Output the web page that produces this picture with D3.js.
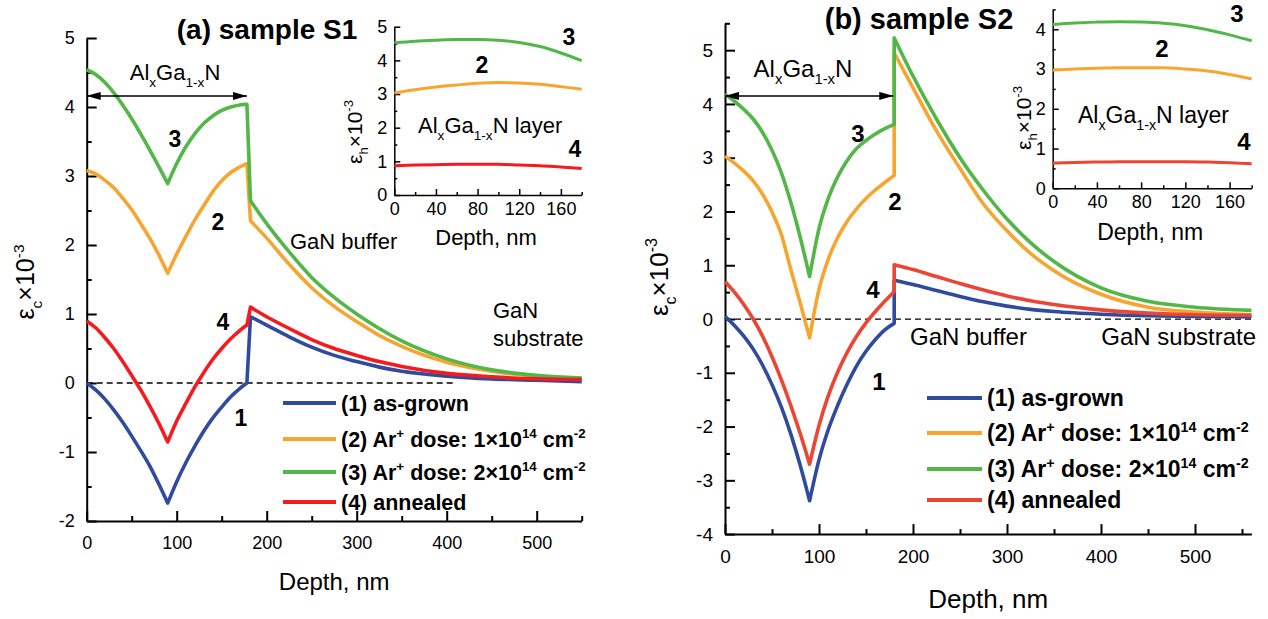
<!DOCTYPE html>
<html>
<head>
<meta charset="utf-8">
<script src="https://cdn.jsdelivr.net/npm/d3@7"></script>
<style>
  body { margin: 0; background: #fff; }
  svg { display: block; font-family: "Liberation Sans", Arial, sans-serif; }
</style>
</head>
<body>
<svg id="chart" width="1268" height="619"></svg>
<script>
"use strict";

/* ---------- Data: panel (a), sample S1 ---------- */
let layerDepthA = [0, 10, 20, 30, 40, 50, 60, 70, 80, 90, 100, 110, 120, 130, 140, 150, 160, 170, 178];
let bufferDepthA = [182, 200, 225, 250, 275, 300, 325, 350, 400, 450, 500, 550];

let asGrownLayerA = [0, -0.1, -0.23, -0.39, -0.57, -0.77, -0.98, -1.2, -1.46, -1.74, -1.43, -1.16, -0.92, -0.7, -0.51, -0.35, -0.2, -0.08, 0];
let dose1LayerA = [3.08, 3.03, 2.94, 2.83, 2.68, 2.51, 2.31, 2.1, 1.86, 1.59, 1.87, 2.12, 2.36, 2.57, 2.77, 2.93, 3.05, 3.13, 3.18];
let dose2LayerA = [4.54, 4.47, 4.36, 4.21, 4.03, 3.83, 3.61, 3.38, 3.14, 2.89, 3.18, 3.42, 3.61, 3.76, 3.87, 3.95, 4.0, 4.03, 4.04];
let annealedLayerA = [0.9, 0.8, 0.66, 0.5, 0.31, 0.11, -0.1, -0.33, -0.58, -0.855, -0.55, -0.3, -0.06, 0.15, 0.34, 0.5, 0.64, 0.76, 0.84];

let asGrownBufferA = [0.96, 0.84, 0.67, 0.52, 0.4, 0.31, 0.23, 0.17, 0.1, 0.06, 0.04, 0.02];
let dose1BufferA = [2.35, 2.1, 1.72, 1.38, 1.11, 0.89, 0.69, 0.53, 0.3, 0.17, 0.1, 0.06];
let dose2BufferA = [2.64, 2.31, 1.9, 1.53, 1.24, 1.0, 0.79, 0.61, 0.35, 0.19, 0.11, 0.07];
let annealedBufferA = [1.1, 0.96, 0.79, 0.63, 0.5, 0.4, 0.31, 0.24, 0.14, 0.09, 0.06, 0.05];

/* ---------- Data: panel (b), sample S2 ---------- */
let layerDepthB = [0, 10, 20, 30, 40, 50, 60, 70, 80, 90, 100, 110, 120, 130, 140, 150, 160, 170, 180];
let bufferDepthB = [180, 200, 225, 250, 275, 300, 325, 350, 400, 450, 500, 560];

let asGrownLayerB = [0.05, -0.12, -0.32, -0.56, -0.86, -1.22, -1.64, -2.14, -2.72, -3.38, -2.62, -2.05, -1.6, -1.21, -0.87, -0.6, -0.38, -0.2, -0.08];
let dose1LayerB = [3.03, 2.9, 2.75, 2.57, 2.32, 1.99, 1.57, 0.92, 0.3, -0.35, 0.55, 1.12, 1.52, 1.82, 2.05, 2.24, 2.4, 2.54, 2.67];
let dose2LayerB = [4.18, 4.05, 3.9, 3.72, 3.47, 3.14, 2.72, 2.17, 1.52, 0.79, 1.68, 2.25, 2.65, 2.95, 3.17, 3.32, 3.44, 3.54, 3.62];
let annealedLayerB = [0.7, 0.5, 0.27, 0.0, -0.32, -0.7, -1.13, -1.61, -2.13, -2.7, -1.98, -1.42, -0.98, -0.62, -0.32, -0.07, 0.14, 0.33, 0.51];

let asGrownBufferB = [0.72, 0.64, 0.53, 0.42, 0.32, 0.24, 0.18, 0.14, 0.09, 0.06, 0.05, 0.04];
let dose1BufferB = [4.95, 4.3, 3.5, 2.8, 2.14, 1.64, 1.22, 0.9, 0.46, 0.22, 0.13, 0.08];
let dose2BufferB = [5.23, 4.52, 3.72, 3.0, 2.39, 1.86, 1.42, 1.07, 0.58, 0.33, 0.22, 0.16];
let annealedBufferB = [1.01, 0.92, 0.79, 0.66, 0.54, 0.43, 0.34, 0.27, 0.17, 0.11, 0.08, 0.07];

/* ---------- Data: insets, eps_h in AlGaN layer ---------- */
let insetDepth = [0, 20, 40, 60, 80, 100, 120, 140, 160, 180];
let dose1InsetA = [3.03, 3.13, 3.21, 3.27, 3.32, 3.34, 3.33, 3.29, 3.22, 3.14];
let dose2InsetA = [4.52, 4.57, 4.6, 4.62, 4.62, 4.6, 4.53, 4.41, 4.22, 3.99];
let annealedInsetA = [0.87, 0.89, 0.9, 0.91, 0.91, 0.91, 0.89, 0.87, 0.83, 0.79];
let dose1InsetB = [2.97, 3.0, 3.02, 3.03, 3.03, 3.03, 3.0, 2.95, 2.86, 2.75];
let dose2InsetB = [4.12, 4.16, 4.18, 4.19, 4.18, 4.15, 4.09, 3.99, 3.86, 3.71];
let annealedInsetB = [0.63, 0.65, 0.66, 0.67, 0.67, 0.67, 0.67, 0.66, 0.64, 0.62];

/* ---------- Labels ---------- */
let legendLabels = [
  [["(1) as-grown"]],
  [["(2) Ar"], ["+", "sup"], [" dose: 1\u00d710"], ["14", "sup"], [" cm"], ["-2", "sup"]],
  [["(3) Ar"], ["+", "sup"], [" dose: 2\u00d710"], ["14", "sup"], [" cm"], ["-2", "sup"]],
  [["(4) annealed"]]
];
let alganLabel = [["Al"], ["x", "sub"], ["Ga"], ["1-x", "sub"], ["N"]];
let alganLayerLabel = [["Al"], ["x", "sub"], ["Ga"], ["1-x", "sub"], ["N layer"]];
let epsCLabel = [["\u03b5"], ["c", "sub"], ["\u00d710"], ["-3", "sup"]];
let epsHLabel = [["\u03b5"], ["h", "sub"], ["\u00d710"], ["-3", "sup"]];

let blue = "#2f4b9d";
let orange = "#f6a630";
let green = "#52b748";
let redA = "#f41a1e";
let redB = "#ec4534";

let svg = d3.select("#chart");

/* arrow head marker */
svg.append("defs").append("marker")
  .attr("id", "arrowHead")
  .attr("viewBox", "0 0 14 8")
  .attr("refX", 14)
  .attr("refY", 4)
  .attr("markerWidth", 14)
  .attr("markerHeight", 8)
  .attr("markerUnits", "userSpaceOnUse")
  .attr("orient", "auto-start-reverse")
  .append("path")
  .attr("d", "M0,0 L14,4 L0,8 Z")
  .attr("fill", "#000");

/* text with sub/superscripts */
function richText(parent, x, y, parts, size, weight, anchor) {
  let t = parent.append("text")
    .attr("x", x)
    .attr("y", y)
    .attr("font-size", size + "px")
    .attr("font-weight", weight || "normal")
    .attr("text-anchor", anchor || "start")
    .attr("fill", "#000");
  let shift = 0;
  parts.forEach(p => {
    let target = p[1] === "sub" ? size * 0.3 : (p[1] === "sup" ? -size * 0.42 : 0);
    t.append("tspan")
      .attr("dy", target - shift)
      .attr("font-size", p[1] ? (size * 0.62) + "px" : null)
      .text(p[0]);
    shift = target;
  });
  return t;
}

function drawAxes(g, x, y, o) {
  let y0 = y.range()[0];
  let x0 = x.range()[0];
  let plain = d => String(d);

  let xMinorAxis = g.append("g").attr("transform", `translate(0,${y0})`)
    .call(d3.axisBottom(x).tickValues(o.xMinor).tickSize(-o.minor).tickFormat(""));
  xMinorAxis.select(".domain").remove();

  let yMinorAxis = g.append("g").attr("transform", `translate(${x0},0)`)
    .call(d3.axisLeft(y).tickValues(o.yMinor).tickSize(-o.minor).tickFormat(""));
  yMinorAxis.select(".domain").remove();

  let xAxis = g.append("g").attr("transform", `translate(0,${y0})`)
    .call(d3.axisBottom(x).tickValues(o.xMajor).tickSize(-o.major).tickSizeOuter(0)
      .tickPadding(o.xPad).tickFormat(plain));

  let yAxis = g.append("g").attr("transform", `translate(${x0},0)`)
    .call(d3.axisLeft(y).tickValues(o.yMajor).tickSize(-o.major).tickSizeOuter(0)
      .tickPadding(o.yPad).tickFormat(plain));

  [xAxis, yAxis, xMinorAxis, yMinorAxis].forEach(a => {
    a.selectAll("path, line").attr("stroke", "#000").attr("stroke-width", o.stroke);
    a.selectAll("text").attr("font-size", o.font + "px").attr("fill", "#000")
      .attr("font-family", "Liberation Sans, Arial, sans-serif");
  });
}

/* one curve: two branches of the AlGaN layer plus the buffer tail */
function curvePath(x, y, layerDepth, layerVals, bufDepth, bufVals) {
  let mid = layerDepth.indexOf(90);
  let pts = layerDepth.map((d, i) => [d, layerVals[i]]);
  let buf = bufDepth.map((d, i) => [d, bufVals[i]]);
  let line = d3.line().x(p => x(p[0])).y(p => y(p[1])).curve(d3.curveMonotoneX);
  let s1 = line(pts.slice(0, mid + 1));
  let s2 = line(pts.slice(mid)).replace(/^M/, "L");
  let s3 = line(buf).replace(/^M/, "L");
  return s1 + s2 + s3;
}

function drawPanel(p) {
  let g = svg.append("g");
  let x = d3.scaleLinear().domain(p.xDomain).range(p.xRange);
  let y = d3.scaleLinear().domain(p.yDomain).range(p.yRange);

  drawAxes(g, x, y, {
    xMajor: p.xMajor, xMinor: p.xMinor, yMajor: p.yMajor, yMinor: p.yMinor,
    major: 10, minor: 5, stroke: 2, font: p.tickFont, xPad: 15, yPad: 12
  });

  // zero line
  g.append("line")
    .attr("x1", x(0)).attr("x2", x(p.zeroEnd))
    .attr("y1", y(0)).attr("y2", y(0))
    .attr("stroke", "#000").attr("stroke-width", 1.3)
    .attr("stroke-dasharray", "6,4");

  p.series.forEach(s => {
    g.append("path")
      .attr("d", curvePath(x, y, p.layerDepth, s.layer, p.bufferDepth, s.buffer))
      .attr("fill", "none")
      .attr("stroke", s.color)
      .attr("stroke-width", 3.6)
      .attr("stroke-linejoin", "round");
  });

  // AlGaN thickness arrow
  g.append("line")
    .attr("x1", x(0)).attr("x2", x(p.arrowEnd))
    .attr("y1", y(p.arrowY)).attr("y2", y(p.arrowY))
    .attr("stroke", "#000").attr("stroke-width", 1.5)
    .attr("marker-start", "url(#arrowHead)")
    .attr("marker-end", "url(#arrowHead)");

  richText(g, p.alganX, p.alganY, alganLabel, p.annFont, "normal", "middle");

  // title
  g.append("text")
    .attr("x", p.titleX).attr("y", p.titleY)
    .attr("text-anchor", "middle")
    .attr("font-size", p.titleFont + "px")
    .attr("font-weight", "bold")
    .text(p.title);

  // axis titles
  g.append("text")
    .attr("x", (p.xRange[0] + p.xRange[1]) / 2).attr("y", p.xTitleY)
    .attr("text-anchor", "middle")
    .attr("font-size", p.xTitleFont + "px")
    .text("Depth, nm");

  richText(g, 0, 0, epsCLabel, p.yTitleFont, "normal", "middle")
    .attr("transform", `translate(${p.yTitleX},${p.yTitleY}) rotate(-90)`);

  // curve numbers
  p.numbers.forEach(n => {
    g.append("text")
      .attr("x", n.x).attr("y", n.y)
      .attr("text-anchor", "middle")
      .attr("font-size", p.numFont + "px")
      .attr("font-weight", "bold")
      .text(n.t);
  });

  // region labels
  p.regions.forEach(r => {
    g.append("text")
      .attr("x", r.x).attr("y", r.y)
      .attr("text-anchor", r.anchor || "start")
      .attr("font-size", p.annFont + "px")
      .text(r.t);
  });

  // legend
  p.series.forEach((s, i) => {
    let ly = p.legendRows[i];
    g.append("line")
      .attr("x1", p.legendX).attr("x2", p.legendX + p.legendLen)
      .attr("y1", ly).attr("y2", ly)
      .attr("stroke", s.color).attr("stroke-width", 4);
    richText(g, p.legendX + p.legendLen + 5, ly + p.legendFont * 0.36, legendLabels[i], p.legendFont, "bold", "start");
  });
}

function drawInset(p) {
  let g = svg.append("g");
  let x = d3.scaleLinear().domain([0, 180]).range(p.xRange);
  let y = d3.scaleLinear().domain(p.yDomain).range(p.yRange);

  drawAxes(g, x, y, {
    xMajor: [0, 40, 80, 120, 160], xMinor: [20, 60, 100, 140, 180],
    yMajor: p.yMajor, yMinor: p.yMinor,
    major: 6, minor: 3, stroke: 1.5, font: p.tickFont, xPad: 7, yPad: 7
  });

  p.series.forEach(s => {
    g.append("path")
      .datum(insetDepth.map((d, i) => [d, s.vals[i]]))
      .attr("d", d3.line().x(q => x(q[0])).y(q => y(q[1])).curve(d3.curveMonotoneX))
      .attr("fill", "none")
      .attr("stroke", s.color)
      .attr("stroke-width", 3);
  });

  g.append("text")
    .attr("x", (p.xRange[0] + p.xRange[1]) / 2 - 2).attr("y", p.xTitleY)
    .attr("text-anchor", "middle")
    .attr("font-size", p.xTitleFont + "px")
    .text("Depth, nm");

  richText(g, 0, 0, epsHLabel, p.yTitleFont, "normal", "middle")
    .attr("transform", `translate(${p.yTitleX},${p.yTitleY}) rotate(-90)`);

  richText(g, p.layerX, p.layerY, alganLayerLabel, p.layerFont, "normal", "start");

  p.numbers.forEach(n => {
    g.append("text")
      .attr("x", n.x).attr("y", n.y)
      .attr("text-anchor", "middle")
      .attr("font-size", p.numFont + "px")
      .attr("font-weight", "bold")
      .text(n.t);
  });
}

drawPanel({
  xDomain: [0, 550], xRange: [86.7, 581.7],
  yDomain: [-2, 5], yRange: [521, 38],
  xMajor: [0, 100, 200, 300, 400, 500], xMinor: [50, 150, 250, 350, 450, 550],
  yMajor: [-2, -1, 0, 1, 2, 3, 4, 5], yMinor: [-1.5, -0.5, 0.5, 1.5, 2.5, 3.5, 4.5],
  tickFont: 18, zeroEnd: 411,
  layerDepth: layerDepthA, bufferDepth: bufferDepthA,
  series: [
    { color: blue, layer: asGrownLayerA, buffer: asGrownBufferA },
    { color: orange, layer: dose1LayerA, buffer: dose1BufferA },
    { color: green, layer: dose2LayerA, buffer: dose2BufferA },
    { color: redA, layer: annealedLayerA, buffer: annealedBufferA }
  ],
  arrowEnd: 178, arrowY: 4.16,
  alganX: 175, alganY: 80, annFont: 22,
  title: "(a) sample S1", titleX: 267, titleY: 39, titleFont: 28,
  xTitleY: 590, xTitleFont: 24,
  yTitleX: 34, yTitleY: 282, yTitleFont: 25,
  numFont: 23,
  numbers: [
    { t: "3", x: 175, y: 147 }, { t: "2", x: 218, y: 230 },
    { t: "4", x: 223, y: 330 }, { t: "1", x: 241, y: 426 }
  ],
  regions: [
    { t: "GaN buffer", x: 290, y: 249 },
    { t: "GaN", x: 493, y: 318 },
    { t: "substrate", x: 493, y: 346 }
  ],
  legendX: 283, legendLen: 53, legendFont: 21.5,
  legendRows: [403, 439, 472, 502]
});

drawPanel({
  xDomain: [0, 560], xRange: [725, 1251.4],
  yDomain: [-4, 5.5], yRange: [534.1, 23.3],
  xMajor: [0, 100, 200, 300, 400, 500], xMinor: [50, 150, 250, 350, 450, 550],
  yMajor: [-4, -3, -2, -1, 0, 1, 2, 3, 4, 5], yMinor: [-3.5, -2.5, -1.5, -0.5, 0.5, 1.5, 2.5, 3.5, 4.5, 5.5],
  tickFont: 19, zeroEnd: 560,
  layerDepth: layerDepthB, bufferDepth: bufferDepthB,
  series: [
    { color: blue, layer: asGrownLayerB, buffer: asGrownBufferB },
    { color: orange, layer: dose1LayerB, buffer: dose1BufferB },
    { color: green, layer: dose2LayerB, buffer: dose2BufferB },
    { color: redB, layer: annealedLayerB, buffer: annealedBufferB }
  ],
  arrowEnd: 179, arrowY: 4.15,
  alganX: 803, alganY: 77, annFont: 24,
  title: "(b) sample S2", titleX: 919, titleY: 29, titleFont: 29,
  xTitleY: 608, xTitleFont: 26,
  yTitleX: 668, yTitleY: 277, yTitleFont: 26,
  numFont: 24,
  numbers: [
    { t: "3", x: 858, y: 142 }, { t: "2", x: 895, y: 210 },
    { t: "4", x: 873, y: 298 }, { t: "1", x: 879, y: 390 }
  ],
  regions: [
    { t: "GaN buffer", x: 910, y: 345 },
    { t: "GaN substrate", x: 1256, y: 345, anchor: "end" }
  ],
  legendX: 927, legendLen: 55, legendFont: 23,
  legendRows: [398, 433, 469, 500]
});

drawInset({
  xRange: [394.3, 581.7], yDomain: [0, 5], yRange: [195, 26.7],
  yMajor: [0, 1, 2, 3, 4, 5], yMinor: [0.5, 1.5, 2.5, 3.5, 4.5],
  tickFont: 18,
  series: [
    { color: orange, vals: dose1InsetA },
    { color: green, vals: dose2InsetA },
    { color: redA, vals: annealedInsetA }
  ],
  xTitleY: 245, xTitleFont: 22,
  yTitleX: 362, yTitleY: 132, yTitleFont: 21,
  layerX: 418, layerY: 133, layerFont: 22,
  numFont: 23,
  numbers: [{ t: "3", x: 569, y: 45 }, { t: "2", x: 482, y: 73 }, { t: "4", x: 575, y: 157 }]
});

drawInset({
  xRange: [1052.7, 1251.7], yDomain: [0, 4.5], yRange: [188.3, 9.4],
  yMajor: [0, 1, 2, 3, 4], yMinor: [0.5, 1.5, 2.5, 3.5, 4.5],
  tickFont: 18,
  series: [
    { color: orange, vals: dose1InsetB },
    { color: green, vals: dose2InsetB },
    { color: redB, vals: annealedInsetB }
  ],
  xTitleY: 240, xTitleFont: 23,
  yTitleX: 1031, yTitleY: 118, yTitleFont: 21,
  layerX: 1078, layerY: 123, layerFont: 23,
  numFont: 24,
  numbers: [{ t: "3", x: 1237, y: 22 }, { t: "2", x: 1162, y: 57 }, { t: "4", x: 1244, y: 150 }]
});
</script>
</body>
</html>
